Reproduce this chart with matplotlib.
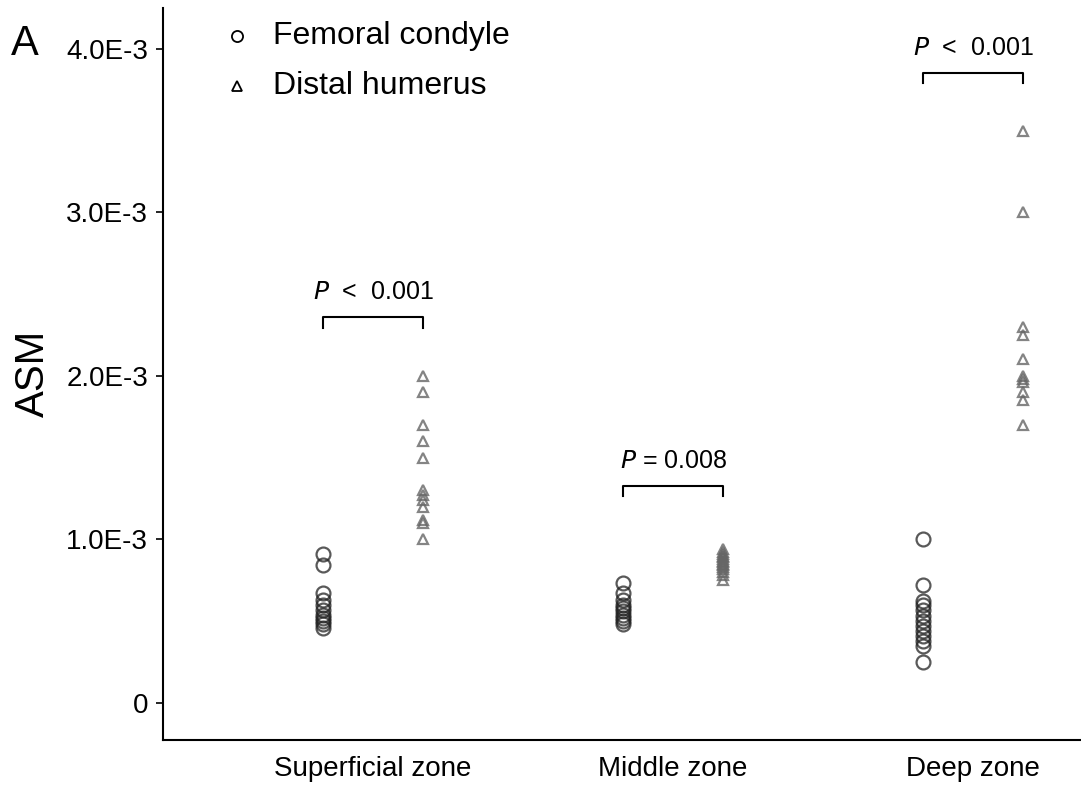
import matplotlib
matplotlib.use("Agg")
from matplotlib import pyplot as plt

plt.rcParams['font.family'] = ['Liberation Sans', 'DejaVu Sans']

zones = ['Superficial zone', 'Middle zone', 'Deep zone']
# ASM values (x 1e-3)
femoral = [
    [0.91, 0.84, 0.67, 0.63, 0.60, 0.57, 0.54, 0.52, 0.50, 0.48, 0.46],
    [0.73, 0.67, 0.63, 0.60, 0.58, 0.56, 0.54, 0.52, 0.50, 0.48],
    [1.00, 0.72, 0.62, 0.60, 0.57, 0.53, 0.50, 0.47, 0.44, 0.41, 0.38, 0.35, 0.25],
]
humerus = [
    [2.00, 1.90, 1.70, 1.60, 1.50, 1.30, 1.27, 1.24, 1.20, 1.12, 1.10, 1.00],
    [0.94, 0.92, 0.91, 0.90, 0.89, 0.88, 0.87, 0.86, 0.85, 0.84, 0.83, 0.82, 0.80, 0.78, 0.75],
    [3.50, 3.00, 2.30, 2.25, 2.10, 2.00, 1.98, 1.96, 1.90, 1.85, 1.70],
]
p_labels = [r'$P$  <  0.001', r'$P$ = 0.008', r'$P$  <  0.001']
bracket_y = [2.36, 1.327, 3.853]
yticks = [0, 1.0, 2.0, 3.0, 4.0]
ytick_labels = ['0', '1.0E-3', '2.0E-3', '3.0E-3', '4.0E-3']

fig = plt.figure(figsize=(10.81, 7.87), dpi=100)
ax = fig.add_axes([0.151, 0.06, 0.849, 0.93])

off = 1 / 6
for i in range(3):
    x = i + 1
    ax.plot([x - off] * len(femoral[i]), [v * 1e-3 for v in femoral[i]], 'o', ms=10,
            mfc='none', mec='#222222', mew=1.6, alpha=0.75)
    ax.plot([x + off] * len(humerus[i]), [v * 1e-3 for v in humerus[i]], '^', ms=7,
            mfc='none', mec='#666666', mew=1.6, alpha=0.8)
    by = bracket_y[i] * 1e-3
    h = 0.065e-3
    ax.plot([x - off, x - off, x + off, x + off], [by - h, by, by, by - h], c='black', lw=1.5)
    ax.text(x, by + 0.08e-3, p_labels[i], ha='center', va='bottom', fontsize=18)

# legend drawn as markers + text
ax.plot([0.545], [4.08e-3], 'o', ms=8, mfc='none', mec='black', mew=1.3, clip_on=False)
ax.plot([0.545], [3.77e-3], '^', ms=6.5, mfc='none', mec='black', mew=1.3, clip_on=False)
ax.text(0.665, 4.08e-3, 'Femoral condyle', va='center', fontsize=23)
ax.text(0.665, 3.77e-3, 'Distal humerus', va='center', fontsize=23)

ax.set_xlim(0.3, 3.36)
ax.set_ylim(-0.226e-3, 4.25e-3)
ax.set_xticks([1, 2, 3])
ax.set_xticklabels(zones, fontsize=20)
ax.tick_params(axis='x', length=0, pad=12)
ax.set_yticks([v * 1e-3 for v in yticks])
ax.set_yticklabels(ytick_labels, fontsize=20)
ax.tick_params(axis='y', length=5, width=1.2, pad=6)
ax.set_ylabel('ASM', fontsize=29, labelpad=10)
for s in ['top', 'right']:
    ax.spines[s].set_visible(False)
ax.spines['left'].set_linewidth(1.5)
ax.spines['bottom'].set_linewidth(1.5)

fig.text(0.01, 0.97, 'A', fontsize=30, va='top')

plt.savefig('out.png', dpi=100)
